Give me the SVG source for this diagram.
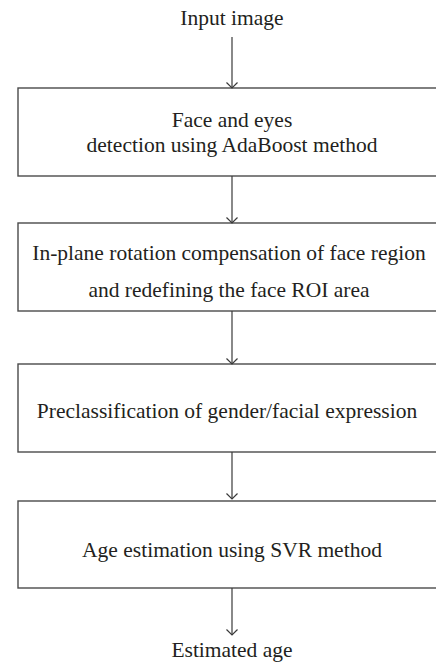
<svg xmlns="http://www.w3.org/2000/svg" width="436" height="663" viewBox="0 0 436 663">
  <style>
    .box { fill: #ffffff; stroke: #4a4a4a; stroke-width: 1.4; }
    .edge { fill: none; stroke: #3a3a3a; stroke-width: 1.2; }
    .head { fill: none; stroke: #3a3a3a; stroke-width: 1.2; }
  </style>
  <rect width="436" height="663" fill="#ffffff"/>

  <g font-family="'Liberation Serif', 'Times New Roman', serif" font-size="21.5" fill="#231f20" text-anchor="middle">
    <g id="input">
      <text x="232" y="25">Input image</text>
    </g>

    <g id="detect">
      <rect class="box" x="18" y="88" width="430" height="88"/>
      <text x="232" y="127">Face and eyes</text>
      <text x="232" y="152">detection using AdaBoost method</text>
    </g>

    <g id="rotate">
      <rect class="box" x="18" y="223" width="430" height="88"/>
      <text x="229" y="260">In-plane rotation compensation of face region</text>
      <text x="229" y="297">and redefining the face ROI area</text>
    </g>

    <g id="preclass">
      <rect class="box" x="18" y="364" width="430" height="88"/>
      <text x="227" y="418">Preclassification of gender/facial expression</text>
    </g>

    <g id="svr">
      <rect class="box" x="18" y="501" width="430" height="87"/>
      <text x="232" y="557">Age estimation using SVR method</text>
    </g>

    <g id="output">
      <text x="232" y="657">Estimated age</text>
    </g>
  </g>

  <g id="connectors">
    <path class="edge" d="M232 37V88"/>
    <path class="head" d="M226.5 82.5L232 88L237.5 82.5"/>
    <path class="edge" d="M232 176V223"/>
    <path class="head" d="M226.5 217.5L232 223L237.5 217.5"/>
    <path class="edge" d="M232 311V364"/>
    <path class="head" d="M226.5 358.5L232 364L237.5 358.5"/>
    <path class="edge" d="M232 452V499"/>
    <path class="head" d="M226.5 493.5L232 499L237.5 493.5"/>
    <path class="edge" d="M232 588V635"/>
    <path class="head" d="M226.5 629.5L232 635L237.5 629.5"/>
  </g>
</svg>
